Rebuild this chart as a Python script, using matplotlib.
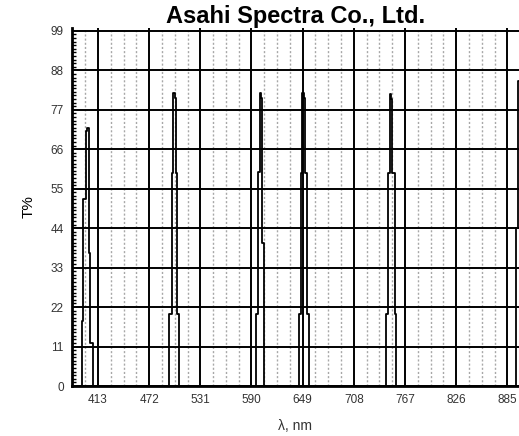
import matplotlib
matplotlib.use('Agg')
import matplotlib.pyplot as plt
from matplotlib.ticker import MultipleLocator
import numpy as np

plt.rcParams['font.family'] = ['Liberation Sans', 'DejaVu Sans']

# transmission spectrum (step edges)
wavelength = [383, 394.6, 396.0, 399.5, 400.5, 402.1, 404.1, 406.9,
              495.1, 497.8, 499.9, 501.3, 502.8, 504.3, 506.6,
              595.2, 597.2, 599.5, 600.6, 602.6, 604.4,
              644.4, 646.7, 648.5, 650.2, 651.9, 654.4, 656.7,
              745.4, 747.3, 749.2, 750.7, 752.5, 755.0, 756.1,
              895.0, 896.8, 900]
transmission = [0, 18, 52, 71, 72, 37, 12, 0,
                20, 59.5, 81.7, 80.3, 59.5, 20, 0,
                20, 59.7, 81.7, 80.3, 40, 0,
                20, 59.5, 81.8, 80.3, 59.5, 20, 0,
                20, 59.5, 81.5, 80, 59.5, 20, 0,
                44, 85, 85]

x_ticks = [413, 472, 531, 590, 649, 708, 767, 826, 885]
y_ticks = [0, 11, 22, 33, 44, 55, 66, 77, 88, 99]

fig = plt.figure(figsize=(5.19, 4.36), dpi=100)
ax = fig.add_axes([72/519, 1-386/436, 1-72/519, (386-28)/436])

ax.plot(wavelength, transmission, drawstyle='steps-post', color='black', lw=1.3, zorder=3)

ax.set_xlim(383, 898.5)
ax.set_ylim(0, 99.8)
ax.set_xticks(x_ticks)
ax.set_yticks(y_ticks)
ax.xaxis.set_minor_locator(MultipleLocator(59/4))
ax.yaxis.set_minor_locator(MultipleLocator(1))

ax.grid(which='major', color='black', lw=1.4)
ax.grid(which='minor', axis='x', color='#a8a8a8', lw=1.0, ls=(0, (1.5, 1.5)))
ax.set_axisbelow(True)

for s in ['top', 'right']:
    ax.spines[s].set_visible(False)
for s in ['left', 'bottom']:
    ax.spines[s].set_linewidth(2)

ax.tick_params(which='major', direction='in', length=0, labelsize=8.5,
               labelcolor='#333333', pad=6)
ax.tick_params(which='minor', axis='y', direction='in', length=3, width=1, color='black')
ax.tick_params(which='minor', axis='x', direction='in', length=0)

ax.set_title('Asahi Spectra Co., Ltd.', fontsize=17, fontweight='bold', pad=3)
ax.set_ylabel('T%', fontsize=11, labelpad=11)
ax.set_xlabel('λ, nm', fontsize=10, labelpad=9, color='#333333')

fig.savefig('out.png', dpi=100)
